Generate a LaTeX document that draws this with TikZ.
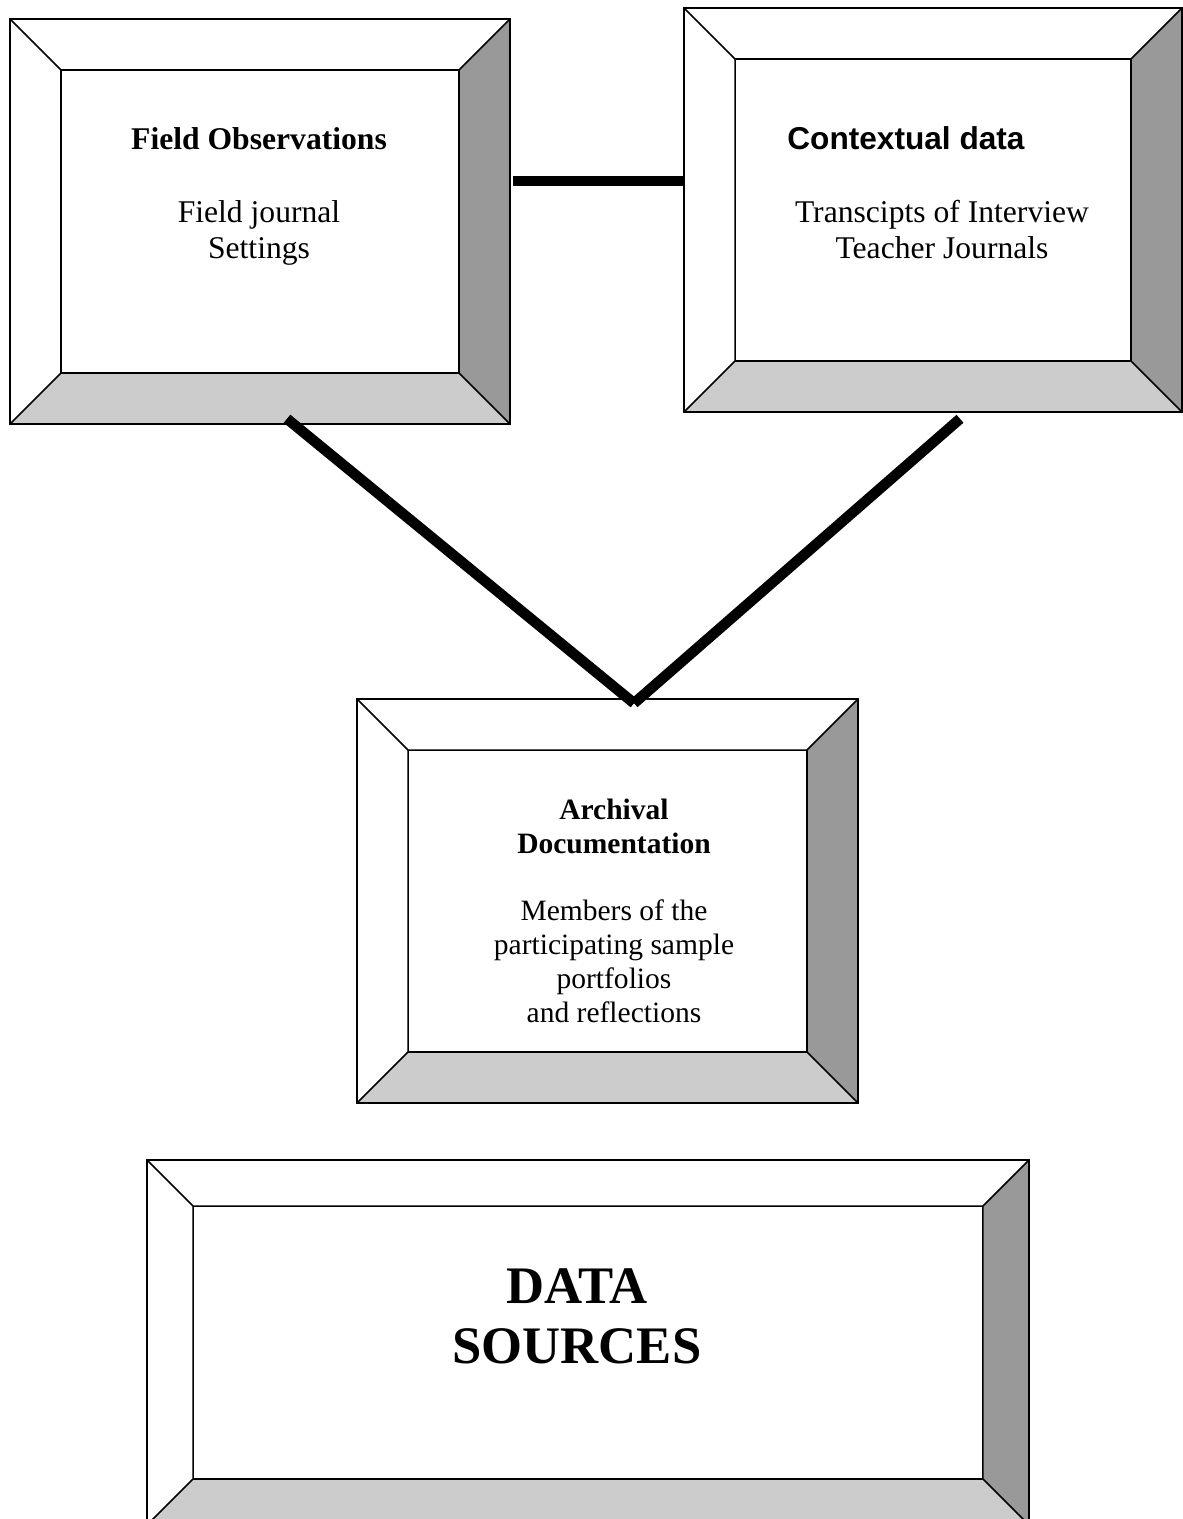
\documentclass[tikz,border=0pt]{standalone}
\usepackage{fontspec}
\setmainfont{Liberation Serif}
\newfontfamily\arialfont{Liberation Sans}
\usepackage{tikz}
\usetikzlibrary{calc}

\definecolor{bevdark}{RGB}{153,153,153}
\definecolor{bevlight}{RGB}{204,204,204}

\begin{document}
\begin{tikzpicture}[x={(0.02cm,0)}, y={(0,-0.02cm)},
    bevelframe/.style={draw, line width=0.9pt, inner sep=0pt, fill=white,
        path picture={
            \path (path picture bounding box.north west) coordinate (o1)
                  (path picture bounding box.north east) coordinate (o2)
                  (path picture bounding box.south east) coordinate (o3)
                  (path picture bounding box.south west) coordinate (o4)
                  ([shift={(#1,-#1)}]o1) coordinate (i1)
                  ([shift={(-#1,-#1)}]o2) coordinate (i2)
                  ([shift={(-#1,#1)}]o3) coordinate (i3)
                  ([shift={(#1,#1)}]o4) coordinate (i4);
            \fill[bevdark] (o2) -- (i2) -- (i3) -- (o3) -- cycle;
            \fill[bevlight] (o4) -- (i4) -- (i3) -- (o3) -- cycle;
            \draw[line width=0.9pt] (i1) rectangle (i3)
                (o1) -- (i1) (o2) -- (i2) (o3) -- (i3) (o4) -- (i4);
        }},
    txt/.style={inner sep=0pt, align=center, font=\fontsize{18}{20}\selectfont},
    link/.style={line width=6pt, line cap=butt}]
    \useasboundingbox (0,0) rectangle (1183,1519);
    \clip (0,0) rectangle (1183,1519);

    % the four framed boxes
    \node[bevelframe=1.02cm, minimum width=10cm, minimum height=8.1cm] (fieldobs) at (260,221.5) {};
    \node[bevelframe=1.02cm, minimum width=9.96cm, minimum height=8.08cm] (context) at (933,210) {};
    \node[bevelframe=1.02cm, minimum width=10.02cm, minimum height=8.08cm] (archival) at (607.5,901) {};
    \node[bevelframe=0.92cm, minimum width=17.64cm, minimum height=7.3cm] (sources) at (588,1342.5) {};

    % texts (base = last line of each node)
    \node[txt, anchor=base] (fotitle) at (259,149) {\bfseries Field Observations};
    \node[txt, anchor=base] (fobody) at (259,258) {Field journal\\Settings};
    \node[txt, anchor=base west] (cotitle) at (787,149) {\arialfont\bfseries Contextual data};
    \node[txt, anchor=base] (cobody) at (942,258) {Transcipts of Interview\\Teacher Journals};
    \node[txt, anchor=base, font=\fontsize{16.8}{19.3}\selectfont] (artitle) at (614,853) {\bfseries Archival\\\bfseries Documentation};
    \node[txt, anchor=base, font=\fontsize{16.8}{19.3}\selectfont] (arbody) at (614,1022) {Members of the\\participating sample\\portfolios\\and reflections};
    \node[txt, anchor=base, font=\fontsize{30}{34}\selectfont\bfseries] (sotitle) at (577,1363) {DATA\\SOURCES};

    % connectors
    \draw[link] ($(fieldobs.east)+(2,-40.5)$) -- ($(context.west)+(0,-29)$);
    \draw[link] ($(fieldobs.south)+(27,-6)$) -- ($(archival.north)+(26.5,5)$);
    \draw[link] ($(context.south)+(27,6)$) -- ($(archival.north)+(26.5,5)$);
\end{tikzpicture}
\end{document}
